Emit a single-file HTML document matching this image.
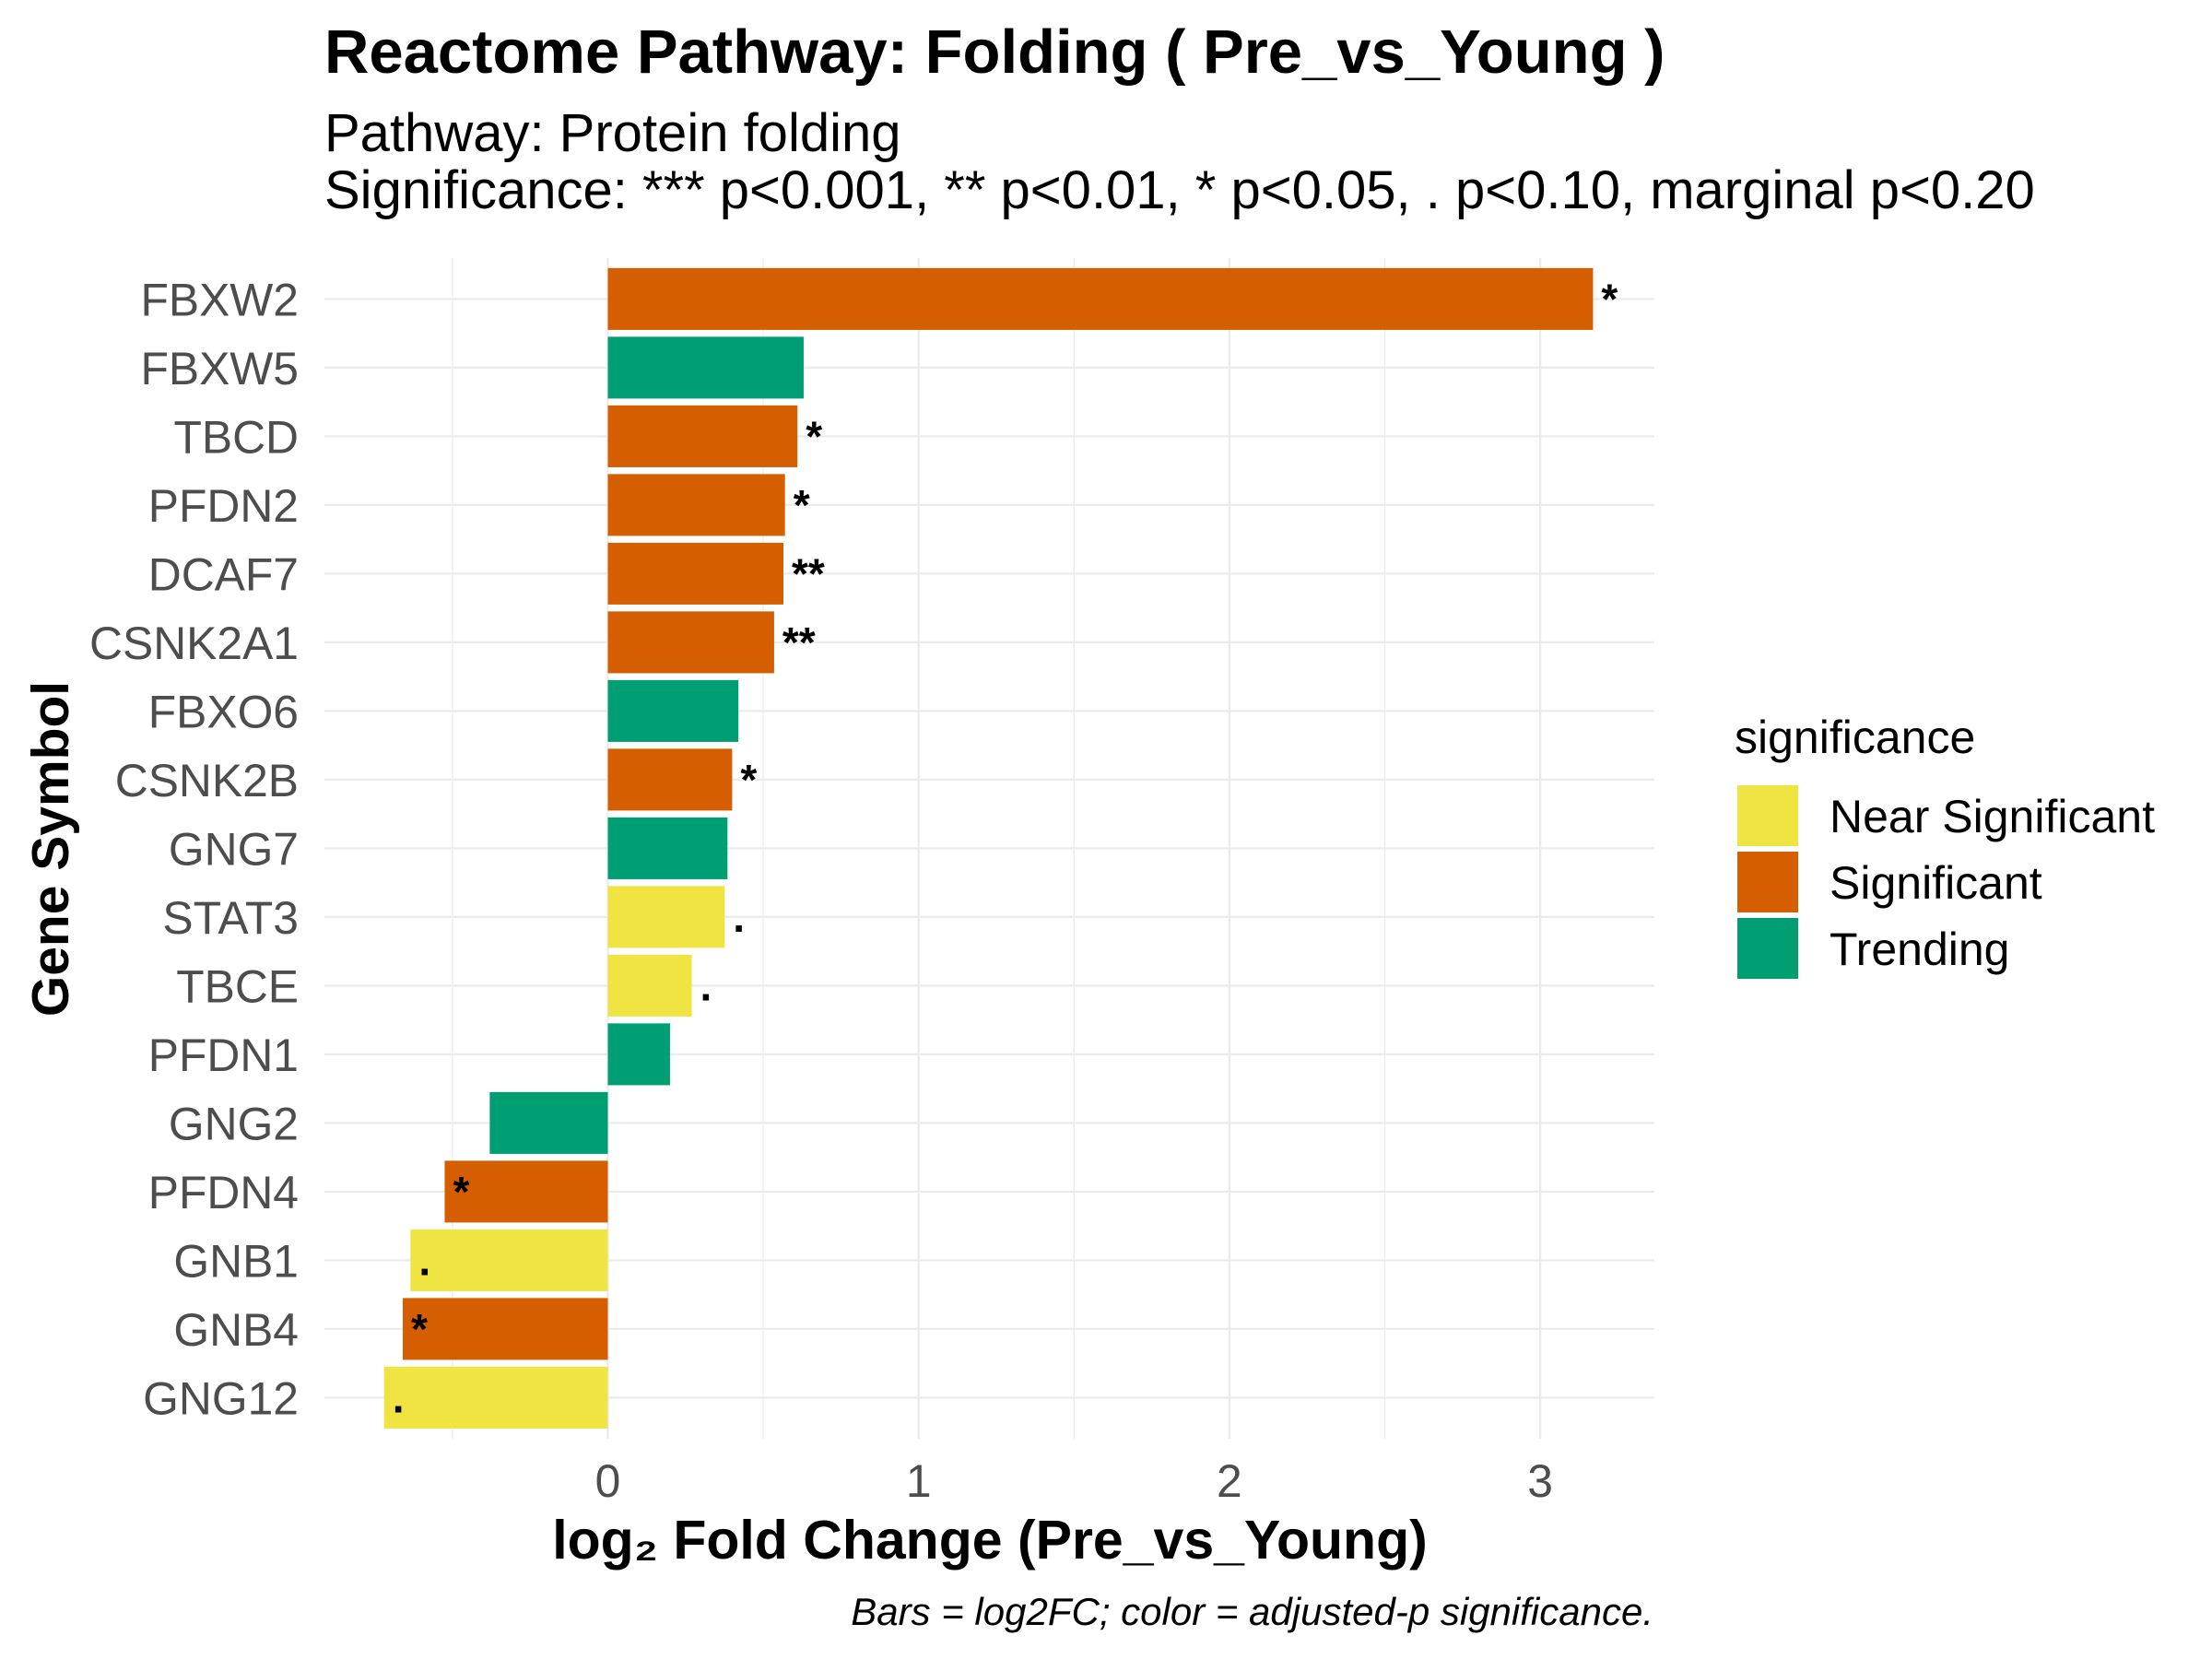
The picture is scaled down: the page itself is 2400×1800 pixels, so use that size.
<!DOCTYPE html>
<html><head><meta charset="utf-8">
<style>
html,body{margin:0;padding:0;background:#fff;}
svg{display:block;font-family:"Liberation Sans",Arial,sans-serif;}
</style></head>
<body>
<svg id="chart" width="2400" height="1800" viewBox="0 0 2400 1800" xmlns="http://www.w3.org/2000/svg">
<rect x="0" y="0" width="2400" height="1800" fill="#fff"/>
<text x="352" y="79" font-size="67" font-weight="bold" fill="#000">Reactome Pathway: Folding ( Pre_vs_Young )</text>
<text x="352" y="164" font-size="58" fill="#000">Pathway: Protein folding</text>
<text x="352" y="226" font-size="58" fill="#000">Significance: *** p&lt;0.001, ** p&lt;0.01, * p&lt;0.05, . p&lt;0.10, marginal p&lt;0.20</text>
<g id="grid"></g>
<g id="bars"></g>
<g id="stars"></g>
<g id="ylabels"></g>
<g id="xlabels"></g>
<text x="1074" y="1691" font-size="59" font-weight="bold" text-anchor="middle" fill="#000">log₂ Fold Change (Pre_vs_Young)</text>
<text transform="translate(74,921) rotate(-90)" font-size="57" font-weight="bold" text-anchor="middle" fill="#000">Gene Symbol</text>
<text x="1794" y="1763" font-size="42" font-style="italic" text-anchor="end" fill="#000">Bars = log2FC; color = adjusted-p significance.</text>
<g id="legend">
<text x="1882" y="817" font-size="50" fill="#000">significance</text>
</g>
</svg>
<script>
const genes = ["FBXW2","FBXW5","TBCD","PFDN2","DCAF7","CSNK2A1","FBXO6","CSNK2B","GNG7","STAT3","TBCE","PFDN1","GNG2","PFDN4","GNB1","GNB4","GNG12"];
const log2fc = [3.17,0.63,0.61,0.57,0.565,0.535,0.42,0.40,0.385,0.376,0.27,0.20,-0.38,-0.525,-0.635,-0.66,-0.72];
const sigClass = ["Significant","Trending","Significant","Significant","Significant","Significant","Trending","Significant","Trending","Near Significant","Near Significant","Trending","Trending","Significant","Near Significant","Significant","Near Significant"];
const starLabels = ["*","","*","*","**","**","","*","",".",".","","","*",".","*","."];
const xTicks = [0,1,2,3];
const xMinor = [-0.5,0.5,1.5,2.5];
const legendItems = ["Near Significant","Significant","Trending"];
const colors = {"Near Significant":"#F0E442","Significant":"#D55E00","Trending":"#009E73"};

const NS = "http://www.w3.org/2000/svg";
const panel = {left:352,right:1795,top:280,bottom:1561};
const x0 = 659.5, unit = 337.2;
function xs(v){return x0 + v*unit;}
const rowTop = 324.4, rowStep = 74.5;
function ys(i){return rowTop + i*rowStep;}
const barH = rowStep*0.9;

function mk(tag, attrs, parent){const e=document.createElementNS(NS,tag);for(const k in attrs)e.setAttribute(k,attrs[k]);parent.appendChild(e);return e;}

const grid = document.getElementById('grid');
xMinor.forEach(v=>{
  const l = mk('line',{x1:xs(v),x2:xs(v),y1:panel.top,y2:panel.bottom,stroke:'#ebebeb','stroke-width':1.2},grid);
  
  
});
xTicks.forEach(v=>{
  const l = mk('line',{x1:xs(v),x2:xs(v),y1:panel.top,y2:panel.bottom,stroke:'#ebebeb','stroke-width':2.3},grid);
  
  
});
genes.forEach((g,i)=>{
  const l = mk('line',{x1:panel.left,x2:panel.right,y1:ys(i),y2:ys(i),stroke:'#ebebeb','stroke-width':2.3},grid);
  
  
});

const bars = document.getElementById('bars');
const stars = document.getElementById('stars');
const ylabels = document.getElementById('ylabels');
genes.forEach((g,i)=>{
  const v = log2fc[i];
  const xa = Math.min(xs(0),xs(v)), w = Math.abs(xs(v)-xs(0));
  const r = mk('rect',{x:xa,y:ys(i)-barH/2,width:w,height:barH,fill:colors[sigClass[i]]},bars);
  
  
  if(starLabels[i]){
    const t = mk('text',{x:xs(v)+9,y:ys(i),'font-size':46,'font-weight':'bold',fill:'#000','dominant-baseline':'central'},stars);
    t.textContent = starLabels[i];
    
    
  }
  const yl = mk('text',{x:324,y:ys(i)+18,'font-size':49.8,fill:'#4d4d4d','text-anchor':'end'},ylabels);
  yl.textContent = g;
  
  
});

const xlabels = document.getElementById('xlabels');
xTicks.forEach(v=>{
  const t = mk('text',{x:xs(v),y:1624,'font-size':49.8,fill:'#4d4d4d','text-anchor':'middle'},xlabels);
  t.textContent = String(v);
  
  
});

const legend = document.getElementById('legend');
legendItems.forEach((name,i)=>{
  const ky = 852 + i*72;
  const r = mk('rect',{x:1885,y:ky,width:66,height:66,fill:colors[name]},legend);
  
  
  const t = mk('text',{x:1985,y:ky+51,'font-size':50,fill:'#000'},legend);
  t.textContent = name;
  
  
});
</script>
</body></html>
